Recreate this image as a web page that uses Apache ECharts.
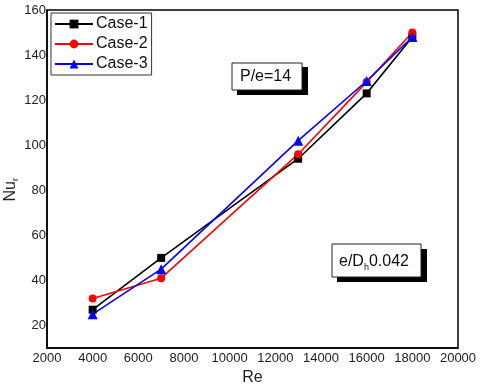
<!DOCTYPE html>
<html><head><meta charset="utf-8">
<script src="https://cdn.jsdelivr.net/npm/echarts@6/dist/echarts.min.js"></script>
<style>html,body{margin:0;padding:0;background:#fff}#c{width:480px;height:386px}</style>
</head><body><div id="c"></div>
<script>
var re = [4000, 7000, 13000, 16000, 18000];
var case1 = [27, 50, 94, 123, 148];
var case2 = [32, 41, 96, 128, 150];
var case3 = [25, 45, 102, 128.5, 148];
var seriesNames = ['Case-1', 'Case-2', 'Case-3'];
var xTicks = {min: 2000, max: 20000, interval: 2000};
var yTicks = {min: 10, max: 160, interval: 10, labelEvery: 20};

function pairs(ys){ return re.map(function(x,i){ return [x, ys[i]]; }); }
var chart = echarts.init(document.getElementById('c'));
var F = 'Arial, "Liberation Sans", sans-serif';
chart.setOption({
  animation: false,
  grid: {left: 47, top: 10, right: 22, bottom: 38, show: true, borderColor: '#000', borderWidth: 1.5, backgroundColor: 'transparent',
    containLabel: false, outerBoundsMode: 'none'},
  xAxis: {type: 'value', min: xTicks.min, max: xTicks.max, interval: xTicks.interval,
    axisLine: {show: true, lineStyle: {color: '#000', width: 1.5}},
    axisTick: {show: false}, splitLine: {show: false},
    axisLabel: {color: '#222', fontFamily: F, fontSize: 13, margin: 4, formatter: function(v){ return String(v); }},
    name: 'Re', nameLocation: 'middle', nameGap: 22,
    nameTextStyle: {color: '#222', fontFamily: F, fontSize: 16}},
  yAxis: {type: 'value', min: yTicks.min, max: yTicks.max, interval: yTicks.interval,
    axisLine: {show: true, lineStyle: {color: '#000', width: 1.5}},
    axisTick: {show: false}, splitLine: {show: false},
    axisLabel: {color: '#222', fontFamily: F, fontSize: 13, margin: 1,
      formatter: function(v){ return v % yTicks.labelEvery === 0 ? String(v) : ''; }}},
  legend: {orient: 'vertical', left: 51, top: 13, itemGap: 4, itemWidth: 38, itemHeight: 11,
    padding: [3, 4, 3, 3], borderColor: '#333', borderWidth: 1, backgroundColor: '#fff',
    textStyle: {fontFamily: F, fontSize: 16, color: '#111', padding: [0,0,0,-2]},
    data: seriesNames},
  series: [
    {name: seriesNames[0], type: 'line', data: pairs(case1), symbol: 'rect', symbolSize: 8,
      itemStyle: {color: '#000'}, lineStyle: {color: '#000', width: 1.6}},
    {name: seriesNames[1], type: 'line', data: pairs(case2), symbol: 'circle', symbolSize: 8,
      itemStyle: {color: '#f00'}, lineStyle: {color: '#f00', width: 1.6}},
    {name: seriesNames[2], type: 'line', data: pairs(case3), symbol: 'triangle', symbolSize: 10,
      itemStyle: {color: '#00f'}, lineStyle: {color: '#00f', width: 1.6}}
  ],
  graphic: [
    {type: 'text', left: 3, top: 178, rotation: Math.PI/2,
      style: {text: '{a|Nu}{s|r}', rich: {a: {fontFamily: F, fontSize: 16, fill: '#222'}, s: {fontFamily: F, fontSize: 9, fill: '#222', padding: [9,0,0,0]}}}},
    {type: 'rect', shape: {x: 237, y: 67, width: 71, height: 28}, style: {fill: '#000'}},
    {type: 'rect', shape: {x: 232, y: 63, width: 70, height: 27}, style: {fill: '#fff', stroke: '#222', lineWidth: 1}},
    {type: 'text', x: 240, y: 69, style: {text: 'P/e=14', fontFamily: F, fontSize: 16, fill: '#111'}},
    {type: 'rect', shape: {x: 337, y: 249, width: 90, height: 33}, style: {fill: '#000'}},
    {type: 'rect', shape: {x: 332, y: 244, width: 89, height: 33}, style: {fill: '#fff', stroke: '#222', lineWidth: 1}},
    {type: 'text', x: 339, y: 251,
      style: {text: '{a|e/D}{s|h}{a|0.042}', rich: {a: {fontFamily: F, fontSize: 16, fill: '#111'}, s: {fontFamily: F, fontSize: 9, fill: '#111', padding: [12,0,0,0]}}}}
  ]
});
</script></body></html>
